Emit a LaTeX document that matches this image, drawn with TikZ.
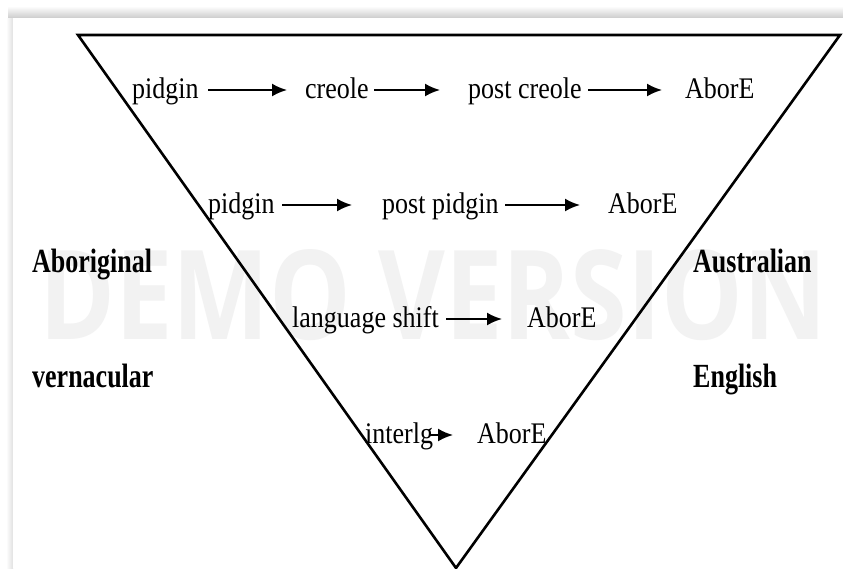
\documentclass[tikz,border=0pt]{standalone}
\usepackage{fontspec}
\setmainfont{Liberation Serif}
\newfontfamily\wmfont{Open Sans}
\usetikzlibrary{arrows.meta}
\newcommand{\tx}[1]{\scalebox{1}[1.15]{#1}}
\newcommand{\bx}[1]{\scalebox{1}[1.3]{\bfseries #1}}
\tikzset{
  lbl/.style={anchor=base west, inner sep=0pt, text height=22pt, text depth=6pt,
              font=\fontsize{26}{30}\selectfont},
  side/.style={anchor=base west, inner sep=0pt, font=\fontsize{26}{30}\selectfont},
  arr/.style={line width=2pt, -{Latex[length=15pt,width=13pt]}},
  tri/.style={line width=2.6pt, line join=miter},
}
\begin{document}
\begin{tikzpicture}[x=1pt,y=-1pt]
\useasboundingbox (0,0) rectangle (843,568);
\fill[white] (0,0) rectangle (843,568);
% frame shadow
\shade[top color=white, bottom color=black!20] (8,6) rectangle (843,18);
\shade[left color=white, right color=black!12] (6,18) rectangle (13,568);
\fill[white] (13,18) rectangle (843,568);
% watermark
\node[text=black!5, inner sep=0pt] (wm) at (433,295) {\resizebox{787pt}{90pt}{\wmfont\bfseries DEMO VERSION}};
% triangle
\draw[tri] (78,35) -- (840,35) -- (456,568) -- cycle;
% row 1
\node[lbl] (p1) at (132,98) {\tx{pidgin}};
\node[lbl] (c1) at (305,98) {\tx{creole}};
\node[lbl] (pc1) at (468,98) {\tx{post creole}};
\node[lbl] (a1) at (685,98) {\tx{AborE}};
\draw[arr, shorten <=9.5pt, shorten >=18pt] (p1.east) -- (c1.west);
\draw[arr, shorten <=5.5pt, shorten >=28pt] (c1.east) -- (pc1.west);
\draw[arr, shorten <=6.6pt, shorten >=23pt] (pc1.east) -- (a1.west);
% row 2
\node[lbl] (p2) at (208,213) {\tx{pidgin}};
\node[lbl] (pp2) at (382,213) {\tx{post pidgin}};
\node[lbl] (a2) at (608,213) {\tx{AborE}};
\draw[arr, shorten <=7.5pt, shorten >=30pt] (p2.east) -- (pp2.west);
\draw[arr, shorten <=6.7pt, shorten >=28pt] (pp2.east) -- (a2.west);
% row 3
\node[lbl] (ls3) at (292,327) {\tx{language shift}};
\node[lbl] (a3) at (527,327) {\tx{AborE}};
\draw[arr, shorten <=7.4pt, shorten >=25pt] (ls3.east) -- (a3.west);
% row 4
\node[lbl] (il4) at (365,443) {\tx{interlg}};
\node[lbl] (a4) at (477,443) {\tx{AborE}};
\draw[arr, shorten <=-3pt, shorten >=24pt] (il4.east) -- (a4.west);
% side labels
\node[side] (abo) at (32,272) {\bx{Aboriginal}};
\node[side] (ver) at (32,387) {\bx{vernacular}};
\node[side] (aus) at (693,272) {\bx{Australian}};
\node[side] (eng) at (693,387) {\bx{English}};
\end{tikzpicture}
\end{document}
